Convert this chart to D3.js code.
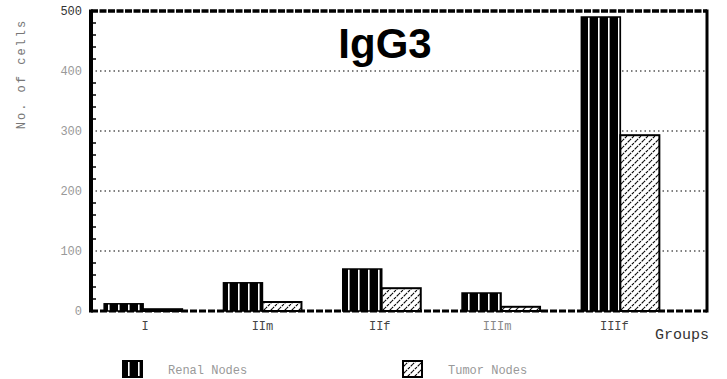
<!DOCTYPE html>
<html><head><meta charset="utf-8">
<script src="https://cdn.jsdelivr.net/npm/d3@7"></script>
<style>body{margin:0;background:#fff}svg{display:block}</style>
</head><body><svg id="c" width="727" height="379"></svg>
<script>
const groups = ["I", "IIm", "IIf", "IIIm", "IIIf"];
const renal = [12, 47, 70, 30, 490];
const tumor = [3, 15, 38, 7, 293];
const yTicks = [0, 100, 200, 300, 400, 500];
const seriesNames = ["Renal Nodes", "Tumor Nodes"];

const svg = d3.select("#c");
const defs = svg.append("defs");
const pr = defs.append("pattern").attr("id","renal").attr("patternUnits","userSpaceOnUse")
  .attr("width",10).attr("height",10);
pr.append("rect").attr("width",10).attr("height",10).attr("fill","#000");
pr.append("rect").attr("x",8).attr("width",1.6).attr("height",10).attr("fill","#fff");
const pt = defs.append("pattern").attr("id","tumor").attr("patternUnits","userSpaceOnUse")
  .attr("width",7).attr("height",7);
pt.append("rect").attr("width",7).attr("height",7).attr("fill","#fff");
pt.append("path").attr("d","M-1,8 L8,-1 M-2,2 L2,-2 M5,9 L9,5").attr("stroke","#000").attr("stroke-width",1.1).attr("stroke-dasharray","3,1");

const L = 91, R = 707, T = 11, B = 311;
const x = d3.scaleBand().domain(groups).range([83.5, 680]).paddingInner(0).paddingOuter(0);
const y = d3.scaleLinear().domain([0, 500]).range([B, T]);
const bw = 39;

// grid lines
svg.append("g").selectAll("line").data(yTicks.filter(v => v > 0 && v < 500)).join("line")
  .attr("x1", L).attr("x2", R).attr("y1", d => y(d)).attr("y2", d => y(d))
  .attr("stroke","#000").attr("stroke-width",1.2).attr("stroke-dasharray","1.5,3");

// minor ticks
const minor = d3.range(0, 500, 20).filter(v => v % 100 !== 0);
svg.append("g").selectAll("line").data(minor).join("line")
  .attr("x1", L).attr("x2", L + 5).attr("y1", d => y(d)).attr("y2", d => y(d))
  .attr("stroke","#000").attr("stroke-width",1.5);

// bottom dashed baseline
svg.append("line").attr("x1", L).attr("x2", R).attr("y1", B).attr("y2", B)
  .attr("stroke","#000").attr("stroke-width",3).attr("stroke-dasharray","7,2");
// top dashed border
svg.append("line").attr("x1", L).attr("x2", R).attr("y1", T).attr("y2", T)
  .attr("stroke","#000").attr("stroke-width",3.5).attr("stroke-dasharray","7,1.5");

// bars
const g = svg.append("g");
g.selectAll("rect.r").data(groups).join("rect").attr("class","r")
  .attr("x", d => x(d) + x.bandwidth()/2 - bw).attr("width", bw)
  .attr("y", (d,i) => y(renal[i])).attr("height", (d,i) => B - y(renal[i]))
  .attr("fill","url(#renal)").attr("stroke","#000").attr("stroke-width",1.5);
g.selectAll("rect.t").data(groups).join("rect").attr("class","t")
  .attr("x", d => x(d) + x.bandwidth()/2).attr("width", bw)
  .attr("y", (d,i) => y(tumor[i])).attr("height", (d,i) => B - y(tumor[i]))
  .attr("fill","url(#tumor)").attr("stroke","#000").attr("stroke-width",2);

// left & right axes
svg.append("line").attr("x1", L).attr("x2", L).attr("y1", T - 1.5).attr("y2", B + 1.5)
  .attr("stroke","#000").attr("stroke-width",4);
svg.append("line").attr("x1", R).attr("x2", R).attr("y1", T - 1.5).attr("y2", B + 1.5)
  .attr("stroke","#000").attr("stroke-width",3);

// y tick labels
svg.append("g").selectAll("text").data(yTicks).join("text")
  .attr("x", 82).attr("y", d => y(d) + 4).attr("text-anchor","end")
  .attr("font-family","Liberation Mono, monospace").attr("font-size",12)
  .attr("fill", d => d === 500 ? "#333" : "#999").text(d => d);

// y title
svg.append("text").attr("transform","translate(25,74) rotate(-90)").attr("text-anchor","middle")
  .attr("font-family","Liberation Mono, monospace").attr("font-size",12).attr("letter-spacing",2)
  .attr("fill","#777").text("No. of cells");

// x labels
svg.append("g").selectAll("text").data(groups).join("text")
  .attr("x", (d,i) => x(d) + x.bandwidth()/2 + 2 - 2*i).attr("y", 330).attr("text-anchor","middle")
  .attr("font-family","Liberation Mono, monospace").attr("font-size",12)
  .attr("fill", (d,i) => i === 3 ? "#888" : "#444").text(d => d);
svg.append("text").attr("x", 682).attr("y", 339).attr("text-anchor","middle")
  .attr("font-family","Liberation Mono, monospace").attr("font-size",15).attr("fill","#333")
  .text("Groups");

// title
svg.append("text").attr("x", 385).attr("y", 58).attr("text-anchor","middle")
  .attr("font-family","Liberation Sans, Arial, sans-serif").attr("font-weight","bold")
  .attr("font-size",42).attr("fill","#000").text("IgG3");

// legend
const lg = svg.append("g");
const lx = [123, 403], fills = ["url(#renal)", "url(#tumor)"];
seriesNames.forEach((n, i) => {
  lg.append("rect").attr("x", lx[i]).attr("y", 361).attr("width", 19).attr("height", 16)
    .attr("fill", fills[i]).attr("stroke","#000").attr("stroke-width",2);
  lg.append("text").attr("x", lx[i] + 45).attr("y", 374)
    .attr("font-family","Liberation Mono, monospace").attr("font-size",12).attr("fill","#999")
    .text(n);
});
</script></body></html>
